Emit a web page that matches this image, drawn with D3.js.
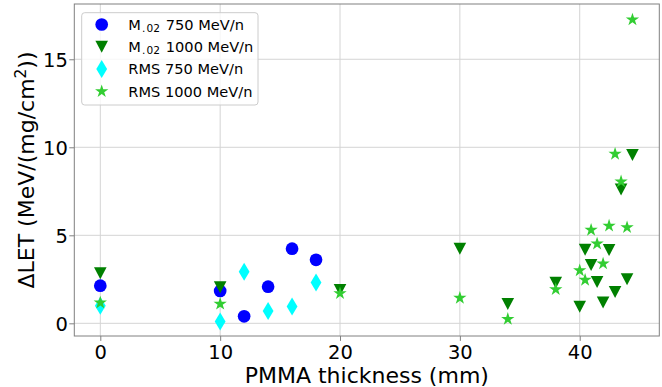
<!DOCTYPE html>
<html>
<head>
<meta charset="utf-8">
<script src="https://cdn.jsdelivr.net/npm/d3@7"></script>
<style>
  html, body { margin: 0; padding: 0; background: #ffffff; }
  svg { display: block; font-family: "DejaVu Sans", sans-serif; }
</style>
</head>
<body>
<script>
// PMMA thickness (mm) for each beam energy
const thickness750 = [0, 10, 12, 14, 16, 18];
const thickness1000 = [0, 10, 20, 30, 34, 38, 40, 40.45, 40.95, 41.45, 41.95, 42.45, 42.95, 43.45, 43.95, 44.4];

// ΔLET, MeV/(mg/cm²)
const m02At750 = [2.14, 1.84, 0.40, 2.08, 4.24, 3.61];
const m02At1000 = [2.84, 2.05, 1.89, 4.24, 1.10, 2.31, 0.94, 4.18, 3.31, 2.35, 1.19, 4.16, 1.78, 7.6, 2.50, 9.56];
const rmsAt750 = [1.00, 0.11, 2.93, 0.70, 0.96, 2.32];
const rmsAt1000 = [1.17, 1.10, 1.70, 1.44, 0.24, 1.93, 3.00, 2.46, 5.30, 4.52, 3.39, 5.54, 9.62, 8.05, 5.45, 17.25];

// Axis ticks
const xTicks = [0, 10, 20, 30, 40];
const yTicks = [0, 5, 10, 15];

// Legend text: [main, subscript, rest]
const legendLabels = [
  ["M", ".02", " 750 MeV/n"],
  ["M", ".02", " 1000 MeV/n"],
  ["RMS 750 MeV/n", "", ""],
  ["RMS 1000 MeV/n", "", ""]
];

const series = [
  { xs: thickness750, ys: m02At750, shape: "circle", color: "#0000ff" },
  { xs: thickness1000, ys: m02At1000, shape: "triangleDown", color: "#008000" },
  { xs: thickness750, ys: rmsAt750, shape: "thinDiamond", color: "#00ffff" },
  { xs: thickness1000, ys: rmsAt1000, shape: "star", color: "#32cd32" }
];

const W = 662, H = 387;
const plot = { left: 74.3, right: 659.3, top: 4, bottom: 336 };

const x = d3.scaleLinear().domain([-2.17, 46.64]).range([plot.left, plot.right]);
const y = d3.scaleLinear().domain([-0.72, 18.14]).range([plot.bottom, plot.top]);

const svg = d3.select("body").append("svg")
  .attr("width", W).attr("height", H);

// Marker outlines, centred on the origin
function markerPath(shape) {
  if (shape === "circle") {
    const r = 6.35;
    return d3.symbol(d3.symbolCircle, Math.PI * r * r)();
  }
  if (shape === "triangleDown") {
    const w = 12.6, h = 12.0;
    return `M0,${h / 2}L${-w / 2},${-h / 2}L${w / 2},${-h / 2}Z`;
  }
  if (shape === "thinDiamond") {
    const w = 10.8, h = 18;
    return `M0,${-h / 2}L${w / 2},0L0,${h / 2}L${-w / 2},0Z`;
  }
  // five-pointed star
  const R = 7.0, r = R * 0.381966;
  const pts = [];
  for (let i = 0; i < 10; i++) {
    const a = -Math.PI / 2 + i * Math.PI / 5;
    const rad = i % 2 === 0 ? R : r;
    pts.push([rad * Math.cos(a), rad * Math.sin(a)]);
  }
  return "M" + pts.map(p => p[0].toFixed(2) + "," + p[1].toFixed(2)).join("L") + "Z";
}

// Grid
const grid = svg.append("g").attr("stroke", "#d4d4d4").attr("stroke-width", 1);
grid.selectAll("line.gx").data(xTicks).join("line")
  .attr("x1", d => x(d)).attr("x2", d => x(d))
  .attr("y1", plot.top).attr("y2", plot.bottom);
grid.selectAll("line.gy").data(yTicks).join("line")
  .attr("y1", d => y(d)).attr("y2", d => y(d))
  .attr("x1", plot.left).attr("x2", plot.right);

// Axes
const xAxis = svg.append("g")
  .attr("transform", `translate(0,${plot.bottom})`)
  .call(d3.axisBottom(x).tickValues(xTicks).tickSize(4.9).tickPadding(3.2).tickFormat(d3.format("d")));
const yAxis = svg.append("g")
  .attr("transform", `translate(${plot.left},0)`)
  .call(d3.axisLeft(y).tickValues(yTicks).tickSize(5).tickPadding(1.5).tickFormat(d3.format("d")));

[xAxis, yAxis].forEach(g => {
  g.select(".domain").remove();
  g.selectAll(".tick line").attr("stroke", "#808080").attr("stroke-width", 1);
  g.selectAll(".tick text")
    .attr("fill", "#000")
    .style("font-family", "'DejaVu Sans', sans-serif")
    .style("font-size", "19.5px");
});
xAxis.selectAll(".tick text").attr("dy", "0.75em");
yAxis.selectAll(".tick text").attr("dy", "0.36em");

// Frame
svg.append("rect")
  .attr("x", plot.left).attr("y", plot.top)
  .attr("width", plot.right - plot.left).attr("height", plot.bottom - plot.top)
  .attr("fill", "none").attr("stroke", "#808080").attr("stroke-width", 1);

// Points
const marks = svg.append("g");
series.forEach(s => {
  const pts = s.xs.map((xv, i) => [xv, s.ys[i]]);
  marks.append("g").selectAll("path").data(pts).join("path")
    .attr("d", markerPath(s.shape))
    .attr("transform", d => `translate(${x(d[0])},${y(d[1])})`)
    .attr("fill", s.color);
});

// Axis titles
svg.append("text")
  .attr("x", (plot.left + plot.right) / 2).attr("y", 383.2)
  .attr("text-anchor", "middle")
  .style("font-size", "22px")
  .text("PMMA thickness (mm)");

const yTitle = svg.append("text")
  .attr("transform", `translate(33.5,${(plot.top + plot.bottom) / 2}) rotate(-90)`)
  .attr("text-anchor", "middle")
  .style("font-size", "22px");
yTitle.append("tspan").text("ΔLET (MeV/(mg/cm");
yTitle.append("tspan").attr("dy", -8).style("font-size", "15.4px").text("2");
yTitle.append("tspan").attr("dy", 8).text("))");

// Legend
const legend = svg.append("g");
legend.append("rect")
  .attr("x", 81.7).attr("y", 12.7).attr("width", 176.3).attr("height", 92.3)
  .attr("rx", 3).attr("ry", 3)
  .attr("fill", "#ffffff").attr("fill-opacity", 0.8)
  .attr("stroke", "#cccccc").attr("stroke-width", 1);

const rowY = [24.5, 46.8, 69.1, 91.4];
series.forEach((s, i) => {
  legend.append("path")
    .attr("d", markerPath(s.shape))
    .attr("transform", `translate(101.7,${rowY[i]})`)
    .attr("fill", s.color);
  const [main, sub, rest] = legendLabels[i];
  const t = legend.append("text")
    .attr("x", 128.3).attr("y", rowY[i] + 5.3)
    .style("font-size", "14.6px");
  t.append("tspan").text(main);
  if (sub) {
    t.append("tspan").attr("dx", 1).attr("dy", 2.3).style("font-size", "10.6px").text(sub.slice(0, 1));
    t.append("tspan").attr("dx", 1.2).style("font-size", "10.6px").text(sub.slice(1));
    t.append("tspan").attr("dx", 1.2).attr("dy", -2.3).text(rest);
  }
});
</script>
</body>
</html>
